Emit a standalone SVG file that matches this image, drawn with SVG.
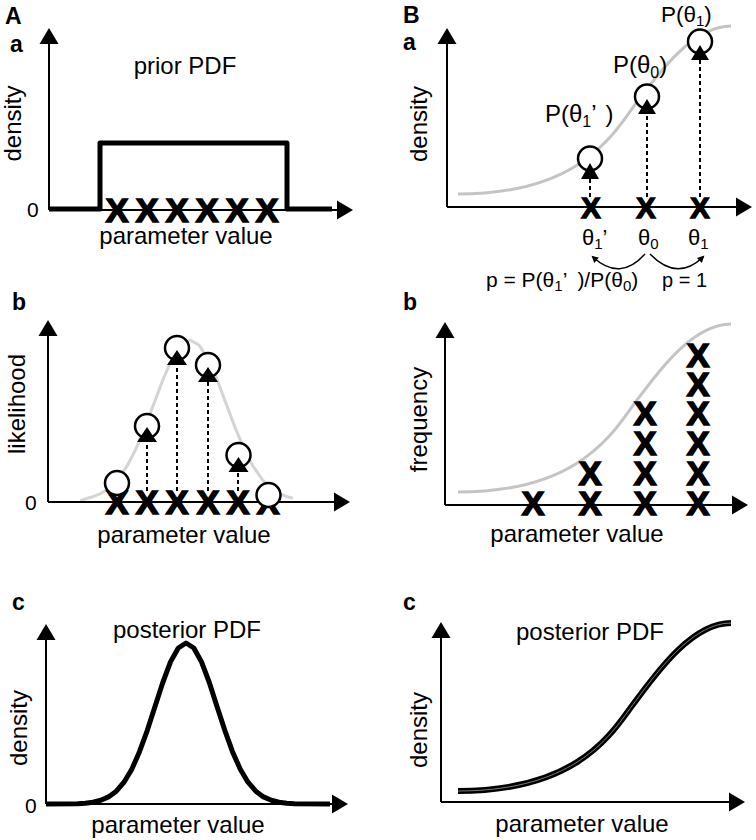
<svg xmlns="http://www.w3.org/2000/svg" xmlns:xlink="http://www.w3.org/1999/xlink" width="756" height="840" viewBox="0 0 756 840">
<style>
text{font-family:"Liberation Sans",Arial,sans-serif;fill:#000}
.lbl{font-size:24px}
.pl{font-size:23px;font-weight:bold}
.zero{font-size:21px}
.x{font-size:34px;font-weight:bold;text-anchor:middle;stroke:#000;stroke-width:1.6;stroke-linejoin:miter}
.xs{font-size:29px;font-weight:bold;text-anchor:middle;stroke:#000;stroke-width:1.4}
.mid{text-anchor:middle}
.ax{stroke:#000;stroke-width:2;fill:none;marker-end:url(#ah)}
.dot{stroke:#000;stroke-width:2;stroke-dasharray:4 3;fill:none}
.circ{fill:#fff;stroke:#000;stroke-width:2.5}
.tri{fill:#000}
.gray{fill:none;stroke:#c4c4c4;stroke-width:3}
.grayA{fill:none;stroke:#d4d4d4;stroke-width:3;stroke-linejoin:round}
.thick{fill:none;stroke:#000;stroke-width:5;stroke-linejoin:round}
.arc{fill:none;stroke:#000;stroke-width:1.5;marker-end:url(#sah)}
.sm{font-size:20px}
.th{font-size:22px}
.pp{font-size:24px}
</style>
<defs>
<marker id="ah" markerUnits="userSpaceOnUse" markerWidth="20" markerHeight="22" viewBox="0 -11 20 22" refX="2" refY="0" orient="auto">
<path d="M0,-9.5 L16,0 L0,9.5 z" fill="#000"/>
</marker>
<marker id="sah" markerUnits="userSpaceOnUse" markerWidth="10" markerHeight="10" viewBox="0 -5 10 10" refX="5" refY="0" orient="auto">
<path d="M0,-3.5 L7,0 L0,3.5 z" fill="#000"/>
</marker>
<path id="sig" d="M458,194 C580,194 613,134 633,107.5 C653,81 690,26 731,26"/>
</defs>

<g id="panel-A-a">
<text class="pl" x="5" y="24">A</text>
<text class="pl" x="10" y="52">a</text>
<text class="lbl mid" x="185" y="74">prior PDF</text>
<text class="lbl mid" transform="translate(20.5,123.5) rotate(-90)">density</text>
<text class="zero" x="27" y="217">0</text>
<line class="ax" x1="49" y1="210" x2="49" y2="42"/>
<line class="ax" x1="49" y1="210" x2="339" y2="210"/>
<path class="thick" d="M49,209 L100,209 L100,143 L287,143 L287,209 L332,209"/>
<text class="x" x="117" y="222">X</text>
<text class="x" x="147" y="222">X</text>
<text class="x" x="177" y="222">X</text>
<text class="x" x="207" y="222">X</text>
<text class="x" x="237" y="222">X</text>
<text class="x" x="267" y="222">X</text>
<text class="lbl mid" x="186" y="244">parameter value</text>
</g>

<g id="panel-A-b">
<text class="pl" x="12" y="310">b</text>
<text class="lbl mid" transform="translate(25,404) rotate(-90)">likelihood</text>
<text class="zero" x="25" y="510">0</text>
<polyline class="grayA" points="80,500.6 91,497.3 100,493.9 109,488.2 118,479.2 127,466.2 136,448.7 145,427.3 154,403.4 163,379.5 172,358.9 181,345 190,340 199,345 208,358.9 217,379.5 226,403.4 235,427.3 244,448.7 253,466.2 262,479.2 271,488.2 280,493.9 289,497.3 293,498.2"/>
<line class="ax" x1="48" y1="502" x2="48" y2="334"/>
<line class="ax" x1="48" y1="502" x2="336" y2="502"/>
<text class="x" x="117" y="514">X</text>
<text class="x" x="147" y="514">X</text>
<text class="x" x="177" y="514">X</text>
<text class="x" x="208" y="514">X</text>
<text class="x" x="238" y="514">X</text>
<text class="x" x="268" y="514">X</text>
<line class="dot" x1="147" y1="491" x2="147" y2="441"/>
<line class="dot" x1="177" y1="491" x2="177" y2="364"/>
<line class="dot" x1="208" y1="491" x2="208" y2="381"/>
<line class="dot" x1="238" y1="491" x2="238" y2="471"/>
<circle class="circ" cx="117" cy="483" r="12"/>
<circle class="circ" cx="147" cy="426" r="12"/>
<circle class="circ" cx="177" cy="348" r="12"/>
<circle class="circ" cx="208" cy="365" r="12"/>
<circle class="circ" cx="238.5" cy="455" r="12"/>
<circle class="circ" cx="268.5" cy="495" r="12"/>
<path class="tri" d="M147,427 L157,442 L137,442 z"/>
<path class="tri" d="M177,350 L187,365 L167,365 z"/>
<path class="tri" d="M208,367 L218,382 L198,382 z"/>
<path class="tri" d="M238.5,457 L248.5,472 L228.5,472 z"/>
<text class="lbl mid" x="184" y="543">parameter value</text>
</g>

<g id="panel-A-c">
<text class="pl" x="12" y="610">c</text>
<text class="lbl mid" x="187" y="638">posterior PDF</text>
<text class="lbl mid" transform="translate(27,728) rotate(-90)">density</text>
<text class="zero" x="25" y="813">0</text>
<line class="ax" x1="46" y1="804" x2="46" y2="638"/>
<line class="ax" x1="46" y1="804" x2="334" y2="804"/>
<polyline class="thick" points="46,804 77.5,803.7 85.3,803.2 93,802.2 100.8,800.3 108.5,796.9 116.3,791.2 124,782.2 131.8,769.2 139.5,751.7 147.3,730.3 155,706.4 162.8,682.5 170.5,661.9 178.3,648 186,643 193.8,648 201.5,661.9 209.3,682.5 217,706.4 224.8,730.3 232.5,751.7 240.3,769.2 248,782.2 255.8,791.2 263.5,796.9 271.3,800.3 279,802.2 286.8,803.2 294.5,803.7 330,804"/>
<text class="lbl mid" x="178" y="833">parameter value</text>
</g>

<g id="panel-B-a">
<text class="pl" x="403" y="23">B</text>
<text class="pl" x="403" y="50">a</text>
<text class="lbl mid" transform="translate(427,124) rotate(-90)">density</text>
<use xlink:href="#sig" class="gray"/>
<line class="ax" x1="447" y1="207" x2="447" y2="42"/>
<line class="ax" x1="447" y1="207" x2="738" y2="207"/>
<text class="xs" x="591" y="217.5">X</text>
<text class="xs" x="646" y="217.5">X</text>
<text class="xs" x="700" y="217.5">X</text>
<line class="dot" x1="590" y1="197" x2="590" y2="179"/>
<line class="dot" x1="647" y1="197" x2="647" y2="113"/>
<line class="dot" x1="700" y1="197" x2="700" y2="59"/>
<circle class="circ" cx="590" cy="158.5" r="12"/>
<circle class="circ" cx="647" cy="96.5" r="12"/>
<circle class="circ" cx="700" cy="41.5" r="12"/>
<path class="tri" d="M590,163 L599,179 L581,179 z"/>
<path class="tri" d="M647,99 L656,114 L638,114 z"/>
<path class="tri" d="M700,45 L709,60 L691,60 z"/>
<text class="pp" x="545" y="122">P(θ<tspan font-size="16" dy="5">1</tspan><tspan dy="-5">’ </tspan><tspan dx="3">)</tspan></text>
<text class="pp" x="613" y="73">P(θ<tspan font-size="16" dy="5">0</tspan><tspan dy="-5">)</tspan></text>
<text x="661" y="22" style="font-size:22.5px">P(θ<tspan font-size="15" dy="4">1</tspan><tspan dy="-4">)</tspan></text>
<text class="th" x="582" y="245">θ<tspan font-size="15" dy="4">1</tspan><tspan dy="-4">’</tspan></text>
<text class="th" x="638" y="245">θ<tspan font-size="15" dy="4">0</tspan></text>
<text class="th" x="688" y="245">θ<tspan font-size="15" dy="4">1</tspan></text>
<path class="arc" d="M645,254 Q620,282 593,257"/>
<path class="arc" d="M650,254 Q677,282 703,257"/>
<text x="486" y="287" style="font-size:21px">p = P(θ<tspan font-size="15" dy="4">1</tspan><tspan dy="-4">’ </tspan><tspan dx="5">)/P(θ</tspan><tspan font-size="15" dy="4">0</tspan><tspan dy="-4">)</tspan></text>
<text class="sm mid" x="684.5" y="287">p = 1</text>
</g>

<g id="panel-B-b">
<text class="pl" x="403" y="310">b</text>
<text class="lbl mid" transform="translate(427,419.5) rotate(-90)">frequency</text>
<use xlink:href="#sig" class="gray" transform="translate(0,298)"/>
<line class="ax" x1="445" y1="505" x2="445" y2="336"/>
<line class="ax" x1="445" y1="505" x2="734" y2="505"/>
<text class="x" x="533" y="515">X</text>
<text class="x" x="590" y="515">X</text>
<text class="x" x="590" y="485">X</text>
<text class="x" x="645" y="515">X</text>
<text class="x" x="645" y="485">X</text>
<text class="x" x="645" y="455">X</text>
<text class="x" x="645" y="425">X</text>
<text class="x" x="698" y="515">X</text>
<text class="x" x="698" y="485">X</text>
<text class="x" x="698" y="455">X</text>
<text class="x" x="698" y="425">X</text>
<text class="x" x="698" y="396">X</text>
<text class="x" x="698" y="367">X</text>
<text class="lbl mid" x="577" y="542">parameter value</text>
</g>

<g id="panel-B-c">
<text class="pl" x="403" y="610">c</text>
<text class="lbl mid" x="590" y="640">posterior PDF</text>
<text class="lbl mid" transform="translate(427,730) rotate(-90)">density</text>
<line class="ax" x1="441" y1="802" x2="441" y2="636"/>
<line class="ax" x1="441" y1="802" x2="731" y2="802"/>
<use xlink:href="#sig" transform="translate(0,597)" style="fill:none;stroke:#000;stroke-width:6"/>
<use xlink:href="#sig" transform="translate(0,597)" style="fill:none;stroke:#999;stroke-width:0.8"/>
<text class="lbl mid" x="582" y="832">parameter value</text>
</g>
</svg>
